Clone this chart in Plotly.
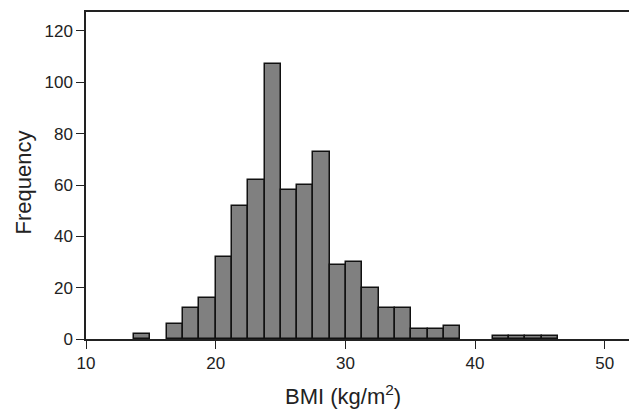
import plotly.graph_objects as go

# Histogram data (BMI, kg/m^2)
bin_start = 13.71
bin_width = 1.257
counts = [2, 0, 6, 12, 16, 32, 52, 62, 107, 58, 60, 73, 29, 30, 20, 12, 12, 4, 4, 5, 0, 0, 1, 1, 1, 1]
x_ticks = [10, 20, 30, 40, 50]
y_ticks = [0, 20, 40, 60, 80, 100, 120]
x_title = "BMI (kg/m<sup>2</sup>)"
y_title = "Frequency"

centers = [bin_start + bin_width * (i + 0.5) for i in range(len(counts))]
heights = [c if c > 0 else None for c in counts]

fig = go.Figure(go.Bar(
    x=centers, y=heights, width=bin_width,
    marker=dict(color="#808080", line=dict(color="#111111", width=1.5)),
))

font = "Liberation Sans, Arial, sans-serif"
fig.update_layout(
    width=629, height=401,
    margin=dict(l=78, r=5, t=4, b=70),
    paper_bgcolor="white", plot_bgcolor="white",
    font=dict(family=font, color="#222222", size=17),
    showlegend=False, bargap=0,
    annotations=[
        dict(text=x_title, xref="paper", yref="paper", x=0.4716, y=-0.171,
             xanchor="center", yanchor="middle", showarrow=False,
             font=dict(size=22, color="#222222")),
        dict(text=y_title, xref="paper", yref="paper", x=-0.1136, y=0.4786,
             xanchor="center", yanchor="middle", showarrow=False, textangle=-90,
             font=dict(size=22, color="#222222")),
    ],
)
fig.update_xaxes(
    range=[10, 52.1], tickvals=x_ticks, ticks="outside", ticklen=8, tickwidth=1.2,
    tickcolor="#222222", showline=True, linecolor="#222222", linewidth=1.5, mirror=True,
    showgrid=False, zeroline=False, tickfont=dict(size=17), automargin=False,
)
fig.update_yaxes(
    range=[0, 127.4], tickvals=y_ticks, ticks="outside", ticklen=8, tickwidth=1.2,
    tickcolor="#222222", showline=True, linecolor="#222222", linewidth=1.5, mirror=True,
    showgrid=False, zeroline=False, tickfont=dict(size=17), automargin=False,
)
fig.write_html("out.html")
